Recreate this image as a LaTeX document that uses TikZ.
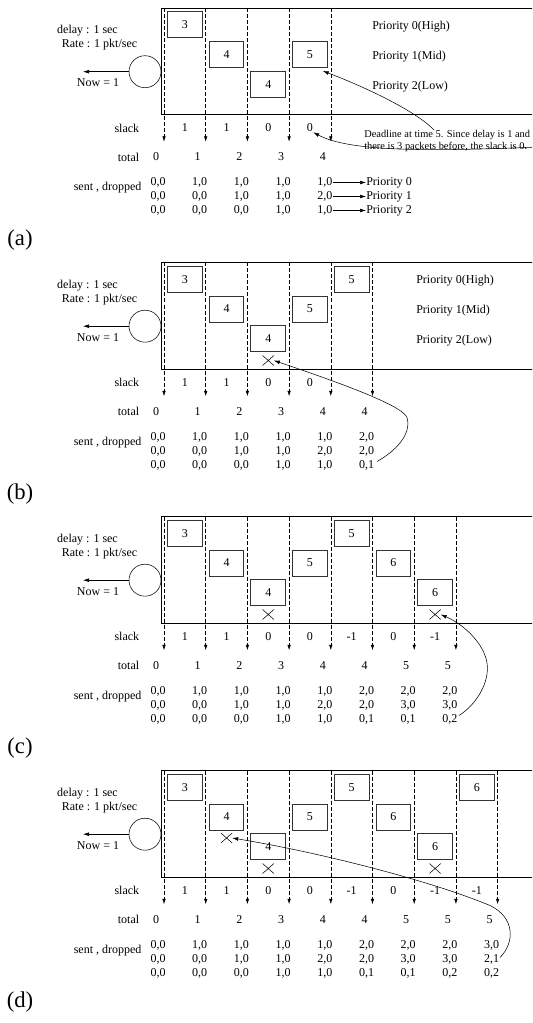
\documentclass[tikz,border=0pt]{standalone}
\usepackage{fontspec}
\setmainfont{Liberation Serif}
\usetikzlibrary{arrows.meta,shapes.misc}

\begin{document}
\begin{tikzpicture}[x=0.75pt,y=0.75pt,yscale=-1,
  every node/.style={font=\fontsize{9}{10.5}\selectfont, inner sep=0pt},
  pkt/.style={draw=black!80, line width=0.7pt, minimum width=26pt, minimum height=19.5pt},
  dropx/.style={draw, cross out, minimum width=8pt, minimum height=7pt},
  vline/.style={dash pattern=on 3pt off 1.5pt, -{Latex[length=4pt,width=2.6pt]}},
  tip/.style={-{Latex[length=4.5pt,width=2.8pt]}},
  vals/.style={align=center},
  tag/.style={font=\fontsize{17}{20}\selectfont}]
\clip (0,0) rectangle (532,1023);

%%%%%%%%%%%%%%%%%%%%%%%%%%%%%%%% (a)
\begin{scope}
%Shape: Rectangle
\draw [line width=0.6pt] (161,8) rectangle (560,114.5) ;
%Shape: Circle
\node [draw, circle, minimum size=24pt] (aserv) at (145,71.7) {};
\coordinate (aout) at (83,71.7) ;
\draw [tip] (aserv) -- (aout) ;
% Text Node
\node (adelay) at (87.5,30.7) {delay : 1 sec};
\node (arate) at (99.5,45) {Rate : 1 pkt/sec};
\node (anow) at (98,83) {Now = 1};

%Straight Lines
\draw [vline] (164,8) -- (164,141.7) ;
\draw [vline] (205.7,8) -- (205.7,141.7) ;
\draw [vline] (247.4,8) -- (247.4,141.7) ;
\draw [vline] (289.1,8) -- (289.1,141.7) ;
\draw [vline] (330.8,8) -- (330.8,141.7) ;

%Shape: Packets
\node [pkt] (aB0) at (184.85,24.7) {3};
\node [pkt] (aB1) at (226.55,54.5) {4};
\node [pkt] (aB2) at (268.25,84.3) {4};
\node [pkt] (aB3) at (309.95,54.5) {5};

% Text Node
\node [anchor=west] (aPh) at (372,26.5) {Priority 0(High)};
\node [anchor=west] (aPm) at (372,56.5) {Priority 1(Mid)};
\node [anchor=west] (aPl) at (372,86.5) {Priority 2(Low)};

% Text Node
\node [anchor=east] (aslack) at (139.5,128) {slack};
\node (aS0) at (184.85,128) {1};
\node (aS1) at (226.55,128) {1};
\node (aS2) at (268.25,128) {0};
\node (aS3) at (309.95,128) {0};

% Text Node
\node [anchor=east] (atotal) at (139.5,157) {total};
\node (aT0) at (156,157) {0};
\node (aT1) at (197.7,157) {1};
\node (aT2) at (239.4,157) {2};
\node (aT3) at (281.1,157) {3};
\node (aT4) at (322.8,157) {4};

% Text Node
\node [anchor=east] (asent) at (141.7,188) {sent , dropped};
\node [vals] (aV0) at (158,196.5) {0,0\\0,0\\0,0};
\node [vals] (aV1) at (199.7,196.5) {1,0\\0,0\\0,0};
\node [vals] (aV2) at (241.4,196.5) {1,0\\1,0\\0,0};
\node [vals] (aV3) at (283.1,196.5) {1,0\\1,0\\1,0};
\node (aV4h) at (324.8,182.5) {1,0};
\node (aV4m) at (324.8,196.5) {2,0};
\node (aV4l) at (324.8,210.5) {1,0};
\node [anchor=west] (aQ0) at (366,182.5) {Priority 0};
\node [anchor=west] (aQ1) at (366,196.5) {Priority 1};
\node [anchor=west] (aQ2) at (366,210.5) {Priority 2};
\draw [tip] (aV4h) -- (aQ0) ;
\draw [tip] (aV4m) -- (aQ1) ;
\draw [tip] (aV4l) -- (aQ2) ;

% Text Node
\node [anchor=west, align=left, font=\fontsize{7.8}{9}\selectfont] (adl) at (364,141) {Deadline at time 5. Since delay is 1 and\\there is 3 packets before, the slack is 0.};
%Curve Lines
\coordinate (adl5) at (434,130) ;
\draw [tip] (adl5) .. controls (415,110) and (360,85) .. ([shift={(-5,3)}]aB3.south east) ;
\coordinate (aend) at (560,146) ;
\draw [tip] (aend) .. controls (430,152) and (350,152) .. (aS3.south east) ;

\node [tag] (alabel) at (20,240) {(a)};
\end{scope}

%%%%%%%%%%%%%%%%%%%%%%%%%%%%%%%% (b)
\begin{scope}[shift={(0,254.5)}]
%Shape: Rectangle
\draw [line width=0.6pt] (161,8) rectangle (560,114.5) ;
%Shape: Circle
\node [draw, circle, minimum size=24pt] (bserv) at (145,71.7) {};
\coordinate (bout) at (83,71.7) ;
\draw [tip] (bserv) -- (bout) ;
% Text Node
\node (bdelay) at (87.5,30.7) {delay : 1 sec};
\node (brate) at (99.5,45) {Rate : 1 pkt/sec};
\node (bnow) at (98,83) {Now = 1};

%Straight Lines
\draw [vline] (164,8) -- (164,141.7) ;
\draw [vline] (205.7,8) -- (205.7,141.7) ;
\draw [vline] (247.4,8) -- (247.4,141.7) ;
\draw [vline] (289.1,8) -- (289.1,141.7) ;
\draw [vline] (330.8,8) -- (330.8,141.7) ;
\draw [vline] (372.5,8) -- (372.5,141.7) ;

%Shape: Packets
\node [pkt] (bB0) at (184.85,24.7) {3};
\node [pkt] (bB1) at (226.55,54.5) {4};
\node [pkt] (bB2) at (268.25,84.3) {4};
\node [pkt] (bB3) at (309.95,54.5) {5};
\node [pkt] (bB4) at (351.65,24.7) {5};
\node [dropx] (bX2) at (268.25,106) {};

% Text Node
\node [anchor=west] (bPh) at (416,26.5) {Priority 0(High)};
\node [anchor=west] (bPm) at (416,56.5) {Priority 1(Mid)};
\node [anchor=west] (bPl) at (416,86.5) {Priority 2(Low)};

% Text Node
\node [anchor=east] (bslack) at (139.5,128) {slack};
\node (bS0) at (184.85,128) {1};
\node (bS1) at (226.55,128) {1};
\node (bS2) at (268.25,128) {0};
\node (bS3) at (309.95,128) {0};

% Text Node
\node [anchor=east] (btotal) at (139.5,157) {total};
\node (bT0) at (156,157) {0};
\node (bT1) at (197.7,157) {1};
\node (bT2) at (239.4,157) {2};
\node (bT3) at (281.1,157) {3};
\node (bT4) at (322.8,157) {4};
\node (bT5) at (364.5,157) {4};

% Text Node
\node [anchor=east] (bsent) at (141.7,188) {sent , dropped};
\node [vals] (bV0) at (158,196.5) {0,0\\0,0\\0,0};
\node [vals] (bV1) at (199.7,196.5) {1,0\\0,0\\0,0};
\node [vals] (bV2) at (241.4,196.5) {1,0\\1,0\\0,0};
\node [vals] (bV3) at (283.1,196.5) {1,0\\1,0\\1,0};
\node [vals] (bV4) at (324.8,196.5) {1,0\\2,0\\1,0};
\node [vals] (bV5) at (366.5,196.5) {2,0\\2,0\\0,1};

%Curve Lines
\coordinate (bq) at (377,207) ;
\draw [tip] (bq) .. controls (395,197) and (412,180) .. (407,163) .. controls (402,150) and (330,125) .. (bX2.east) ;

\node [tag] (blabel) at (20,240) {(b)};
\end{scope}

%%%%%%%%%%%%%%%%%%%%%%%%%%%%%%%% (c)
\begin{scope}[shift={(0,508.5)}]
%Shape: Rectangle
\draw [line width=0.6pt] (161,8) rectangle (560,114.5) ;
%Shape: Circle
\node [draw, circle, minimum size=24pt] (cserv) at (145,71.7) {};
\coordinate (cout) at (83,71.7) ;
\draw [tip] (cserv) -- (cout) ;
% Text Node
\node (cdelay) at (87.5,30.7) {delay : 1 sec};
\node (crate) at (99.5,45) {Rate : 1 pkt/sec};
\node (cnow) at (98,83) {Now = 1};

%Straight Lines
\draw [vline] (164,8) -- (164,141.7) ;
\draw [vline] (205.7,8) -- (205.7,141.7) ;
\draw [vline] (247.4,8) -- (247.4,141.7) ;
\draw [vline] (289.1,8) -- (289.1,141.7) ;
\draw [vline] (330.8,8) -- (330.8,141.7) ;
\draw [vline] (372.5,8) -- (372.5,141.7) ;
\draw [vline] (414.2,8) -- (414.2,141.7) ;
\draw [vline] (455.9,8) -- (455.9,141.7) ;

%Shape: Packets
\node [pkt] (cB0) at (184.85,24.7) {3};
\node [pkt] (cB1) at (226.55,54.5) {4};
\node [pkt] (cB2) at (268.25,84.3) {4};
\node [pkt] (cB3) at (309.95,54.5) {5};
\node [pkt] (cB4) at (351.65,24.7) {5};
\node [pkt] (cB5) at (393.35,54.5) {6};
\node [pkt] (cB6) at (435.05,84.3) {6};
\node [dropx] (cX2) at (268.25,106) {};
\node [dropx] (cX6) at (435.05,106) {};

% Text Node
\node [anchor=east] (cslack) at (139.5,128) {slack};
\node (cS0) at (184.85,128) {1};
\node (cS1) at (226.55,128) {1};
\node (cS2) at (268.25,128) {0};
\node (cS3) at (309.95,128) {0};
\node (cS4) at (351.65,128) {-1};
\node (cS5) at (393.35,128) {0};
\node (cS6) at (435.05,128) {-1};

% Text Node
\node [anchor=east] (ctotal) at (139.5,157) {total};
\node (cT0) at (156,157) {0};
\node (cT1) at (197.7,157) {1};
\node (cT2) at (239.4,157) {2};
\node (cT3) at (281.1,157) {3};
\node (cT4) at (322.8,157) {4};
\node (cT5) at (364.5,157) {4};
\node (cT6) at (406.2,157) {5};
\node (cT7) at (447.9,157) {5};

% Text Node
\node [anchor=east] (csent) at (141.7,188) {sent , dropped};
\node [vals] (cV0) at (158,196.5) {0,0\\0,0\\0,0};
\node [vals] (cV1) at (199.7,196.5) {1,0\\0,0\\0,0};
\node [vals] (cV2) at (241.4,196.5) {1,0\\1,0\\0,0};
\node [vals] (cV3) at (283.1,196.5) {1,0\\1,0\\1,0};
\node [vals] (cV4) at (324.8,196.5) {1,0\\2,0\\1,0};
\node [vals] (cV5) at (366.5,196.5) {2,0\\2,0\\0,1};
\node [vals] (cV6) at (408.2,196.5) {2,0\\3,0\\0,1};
\node [vals] (cV7) at (449.9,196.5) {2,0\\3,0\\0,2};

%Curve Lines
\coordinate (cq) at (459,207) ;
\draw [tip] (cq) .. controls (478,195) and (492,170) .. (486,150) .. controls (481,132) and (462,115) .. (cX6.east) ;

\node [tag] (clabel) at (20,240) {(c)};
\end{scope}

%%%%%%%%%%%%%%%%%%%%%%%%%%%%%%%% (d)
\begin{scope}[shift={(0,762.5)}]
%Shape: Rectangle
\draw [line width=0.6pt] (161,8) rectangle (560,114.5) ;
%Shape: Circle
\node [draw, circle, minimum size=24pt] (dserv) at (145,71.7) {};
\coordinate (dout) at (83,71.7) ;
\draw [tip] (dserv) -- (dout) ;
% Text Node
\node (ddelay) at (87.5,30.7) {delay : 1 sec};
\node (drate) at (99.5,45) {Rate : 1 pkt/sec};
\node (dnow) at (98,83) {Now = 1};

%Straight Lines
\draw [vline] (164,8) -- (164,141.7) ;
\draw [vline] (205.7,8) -- (205.7,141.7) ;
\draw [vline] (247.4,8) -- (247.4,141.7) ;
\draw [vline] (289.1,8) -- (289.1,141.7) ;
\draw [vline] (330.8,8) -- (330.8,141.7) ;
\draw [vline] (372.5,8) -- (372.5,141.7) ;
\draw [vline] (414.2,8) -- (414.2,141.7) ;
\draw [vline] (455.9,8) -- (455.9,141.7) ;
\draw [vline] (497.6,8) -- (497.6,141.7) ;

%Shape: Packets
\node [pkt] (dB0) at (184.85,24.7) {3};
\node [pkt] (dB1) at (226.55,54.5) {4};
\node [pkt] (dB2) at (268.25,84.3) {4};
\node [pkt] (dB3) at (309.95,54.5) {5};
\node [pkt] (dB4) at (351.65,24.7) {5};
\node [pkt] (dB5) at (393.35,54.5) {6};
\node [pkt] (dB6) at (435.05,84.3) {6};
\node [pkt] (dB7) at (476.75,24.7) {6};
\node [dropx] (dX1) at (226.55,75.5) {};
\node [dropx] (dX2) at (268.25,106) {};
\node [dropx] (dX6) at (435.05,106) {};

% Text Node
\node [anchor=east] (dslack) at (139.5,128) {slack};
\node (dS0) at (184.85,128) {1};
\node (dS1) at (226.55,128) {1};
\node (dS2) at (268.25,128) {0};
\node (dS3) at (309.95,128) {0};
\node (dS4) at (351.65,128) {-1};
\node (dS5) at (393.35,128) {0};
\node (dS6) at (435.05,128) {-1};
\node (dS7) at (476.75,128) {-1};

% Text Node
\node [anchor=east] (dtotal) at (139.5,157) {total};
\node (dT0) at (156,157) {0};
\node (dT1) at (197.7,157) {1};
\node (dT2) at (239.4,157) {2};
\node (dT3) at (281.1,157) {3};
\node (dT4) at (322.8,157) {4};
\node (dT5) at (364.5,157) {4};
\node (dT6) at (406.2,157) {5};
\node (dT7) at (447.9,157) {5};
\node (dT8) at (489.6,157) {5};

% Text Node
\node [anchor=east] (dsent) at (141.7,188) {sent , dropped};
\node [vals] (dV0) at (158,196.5) {0,0\\0,0\\0,0};
\node [vals] (dV1) at (199.7,196.5) {1,0\\0,0\\0,0};
\node [vals] (dV2) at (241.4,196.5) {1,0\\1,0\\0,0};
\node [vals] (dV3) at (283.1,196.5) {1,0\\1,0\\1,0};
\node [vals] (dV4) at (324.8,196.5) {1,0\\2,0\\1,0};
\node [vals] (dV5) at (366.5,196.5) {2,0\\2,0\\0,1};
\node [vals] (dV6) at (408.2,196.5) {2,0\\3,0\\0,1};
\node [vals] (dV7) at (449.9,196.5) {2,0\\3,0\\0,2};
\node [vals] (dV8) at (491.6,196.5) {3,0\\2,1\\0,2};

%Curve Lines
\coordinate (dq) at (500,195) ;
\draw [tip] (dq) .. controls (515,180) and (515,155) .. (490,143) .. controls (430,118) and (320,90) .. (dX1.east) ;

\node [tag] (dlabel) at (20,240) {(d)};
\end{scope}

\end{tikzpicture}
\end{document}
